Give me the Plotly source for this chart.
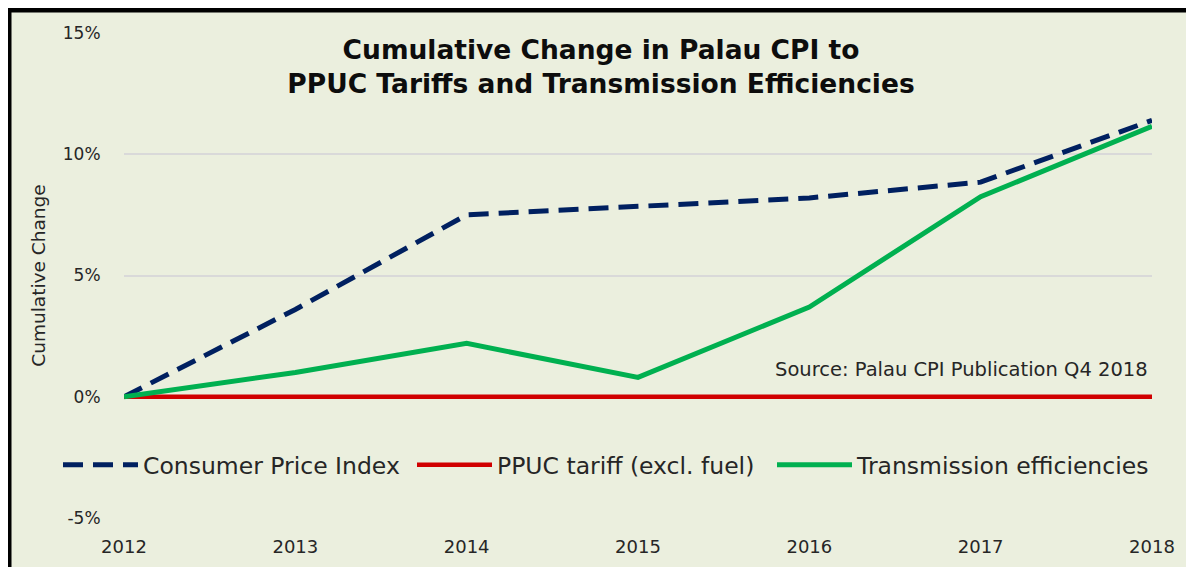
import plotly.graph_objects as go

years = [2012, 2013, 2014, 2015, 2016, 2017, 2018]
cpi = [0.0, 3.6, 7.5, 7.85, 8.2, 8.85, 11.4]
ppuc = [0.0, 0.0, 0.0, 0.0, 0.0, 0.0, 0.0]
trans = [0.0, 1.0, 2.2, 0.8, 3.7, 8.25, 11.15]
y_ticks = [-5, 0, 5, 10, 15]
y_tick_labels = ["-5%", "0%", "5%", "10%", "15%"]

names = ["Consumer Price Index", "PPUC tariff (excl. fuel)", "Transmission efficiencies"]

W, H = 1194, 567
OFF = 8  # page body margin offset (screen px = figure px + OFF)
ML, MR = 30, 30          # outer margins (figure px)
gw = W - ML - MR         # paper width
AX_L, AX_R = 124, 1152   # axis extent on screen
AX_T, AX_B = 33, 518
T = AX_T - OFF
ph = AX_B - AX_T
B = H - T - ph

def px_x(p):
    return (p - OFF - ML) / gw

def px_y(p):
    return (T + ph - (p - OFF)) / ph

FONT = "DejaVu Sans"
TXT = "#262626"

fig = go.Figure()
fig.add_trace(go.Scatter(x=years, y=cpi, mode="lines", name=names[0], legend="legend",
                         line=dict(color="#002060", width=5, dash="20px,10px")))
fig.add_trace(go.Scatter(x=years, y=ppuc, mode="lines", name=names[1], legend="legend2",
                         line=dict(color="#D00000", width=4.5)))
fig.add_trace(go.Scatter(x=years, y=trans, mode="lines", name=names[2], legend="legend3",
                         line=dict(color="#00B050", width=5)))

def legend_at(x_screen):
    return dict(orientation="h", x=px_x(x_screen), xanchor="left",
                y=px_y(465), yanchor="middle",
                bgcolor="rgba(0,0,0,0)", itemwidth=75,
                font=dict(size=23.5, color=TXT))

fig.update_layout(
    width=W, height=H,
    margin=dict(l=ML, r=MR, t=T, b=B, pad=0, autoexpand=False),
    paper_bgcolor="white",
    plot_bgcolor="rgba(0,0,0,0)",
    font=dict(family=FONT, color=TXT, size=17),
    title=dict(text="<b>Cumulative Change in Palau CPI to<br>PPUC Tariffs and Transmission Efficiencies</b>",
               x=px_x(601), xref="paper", xanchor="center",
               y=1 - 51 / H, yanchor="middle",
               font=dict(family=FONT, size=26.5, color="#0D0D0D")),
    xaxis=dict(domain=[px_x(AX_L), px_x(AX_R)], range=[2012, 2018],
               tickvals=years, ticktext=[str(y) for y in years],
               showgrid=False, zeroline=False, showline=False, automargin=False,
               ticks="outside", ticklen=12, tickcolor="rgba(0,0,0,0)",
               tickfont=dict(size=18, color=TXT)),
    yaxis=dict(range=[-5, 15], tickvals=y_ticks, ticktext=y_tick_labels,
               showgrid=True, gridcolor="#D9D9D9", gridwidth=1.5, automargin=False,
               zeroline=False, showline=False, ticks="outside", ticklen=19,
               tickcolor="rgba(0,0,0,0)",
               tickfont=dict(size=17, color=TXT),
               title=dict(text="Cumulative Change", standoff=12,
                          font=dict(size=18.5, color=TXT))),
    legend=legend_at(58),
    legend2=legend_at(412),
    legend3=legend_at(772),
    showlegend=True,
)

fig.add_shape(type="rect", xref="paper", yref="paper", layer="below",
              x0=px_x(9), x1=px_x(1192), y0=px_y(580), y1=px_y(10),
              fillcolor="#EBEFDE", line=dict(color="black", width=5))

fig.add_annotation(text="Source: Palau CPI Publication Q4 2018", xref="paper", yref="paper",
                   x=px_x(1150), xanchor="right", y=px_y(369), yanchor="middle",
                   showarrow=False, font=dict(size=19.5, color=TXT))

fig.write_html("out.html")
